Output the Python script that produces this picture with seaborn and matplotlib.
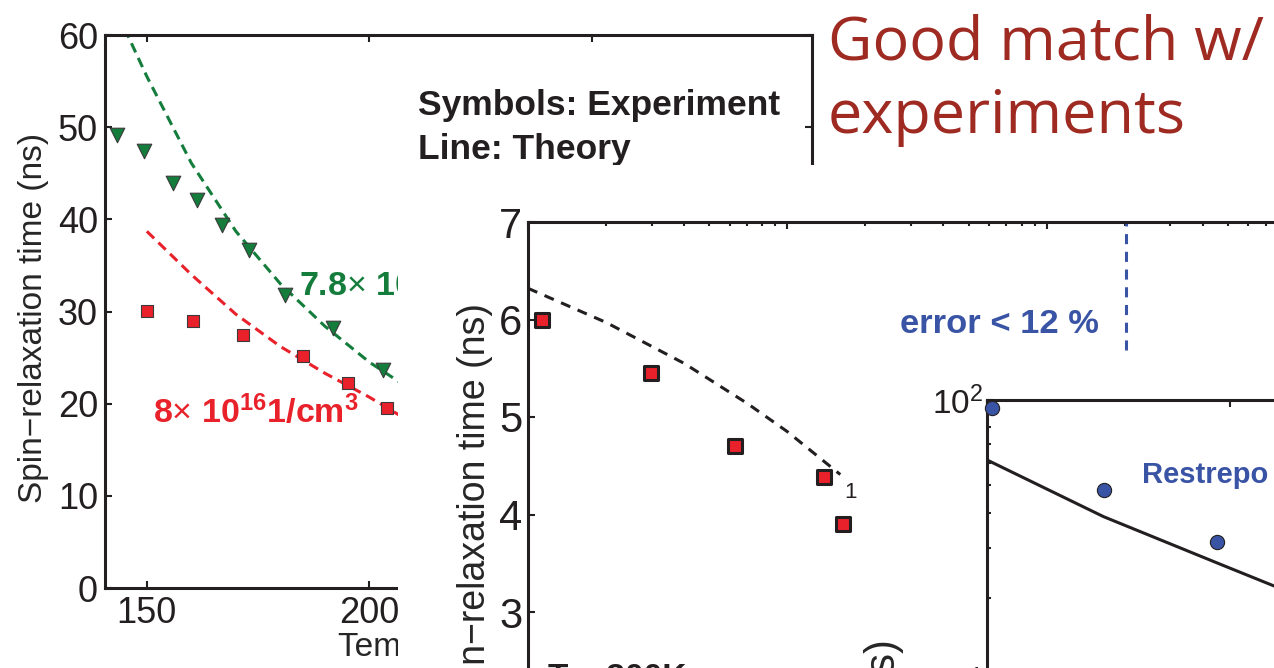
import matplotlib
matplotlib.use("Agg")
import matplotlib.pyplot as plt
import seaborn as sns
from matplotlib.patches import Rectangle
from matplotlib.ticker import NullFormatter, LogLocator

# left panel: spin relaxation vs temperature
temp_green = [143.3, 149.4, 155.8, 161.2, 166.8, 173.0, 181.1, 191.9, 203.1]
tau_green = [49.2, 47.4, 43.9, 42.1, 39.4, 36.7, 31.8, 28.2, 23.7]
temp_red = [150.0, 160.3, 171.5, 185.0, 195.1, 203.9]
tau_red = [30.1, 29.0, 27.5, 25.2, 22.2, 19.5]
theory_temp_green = [145, 150, 160, 170, 180, 190, 200, 210]
theory_tau_green = [60.7, 55.5, 46.1, 38.7, 33.0, 28.4, 24.5, 21.3]
theory_temp_red = [150, 160, 170, 180, 190, 200, 210]
theory_tau_red = [38.7, 34.0, 29.7, 26.2, 23.3, 20.7, 17.8]

# middle panel: spin relaxation vs doping (T = 300K)
doping_exp = [1.13e15, 2.99e15, 6.30e15, 1.38e16, 1.64e16]
tau_exp_b = [5.99, 5.45, 4.70, 4.38, 3.90]
doping_theory = [1e15, 2e15, 4e15, 7e15, 1e16, 1.6e16]
tau_theory_b = [6.32, 5.97, 5.55, 5.14, 4.85, 4.41]

# right panel: Restrepo data (log scale)
x_restrepo = [2.2, 48.3, 94.6]
tau_restrepo = [93.5, 48.1, 31.6]
x_theory_c = [0, 48, 95, 142]
tau_theory_c = [61.4, 38.7, 26.5, 18.2]

GREEN = "#147D3C"
RED = "#E8212B"
BLUE = "#3953A5"
INK = "#231F20"
EDGE = "#3a3a3a"

W, H = 1274, 668


def box(x0, y0, x1, y1):
    return [x0 / W, 1 - y1 / H, (x1 - x0) / W, (y1 - y0) / H]


sns.set_style("ticks")
plt.rcParams["font.family"] = ["Liberation Sans", "DejaVu Sans"]
plt.rcParams["mathtext.fontset"] = "custom"
plt.rcParams["mathtext.rm"] = "Liberation Sans"
plt.rcParams["mathtext.bf"] = "Liberation Sans:bold"
plt.rcParams["mathtext.it"] = "Liberation Sans:italic"
plt.rcParams["axes.edgecolor"] = INK
plt.rcParams["text.color"] = INK

fig = plt.figure(figsize=(W / 100, H / 100), dpi=100)


def frame(ax, size, pad):
    for s in ax.spines.values():
        s.set_visible(True)
        s.set_linewidth(2.2)
        s.set_color(INK)
    ax.tick_params(which="both", direction="in", top=True, right=True,
                   width=1.5, colors=INK, labelsize=size, pad=pad)
    ax.tick_params(which="major", length=5)
    ax.tick_params(which="minor", length=3)
    ax.set_facecolor("white")


# ---- left panel ----
axA = fig.add_axes(box(105, 35, 812, 588))
axA.set_zorder(1)
sns.lineplot(x=theory_temp_green, y=theory_tau_green, ax=axA, color=GREEN,
             lw=2.2, linestyle=(0, (3.3, 2)), estimator=None)
sns.lineplot(x=theory_temp_red, y=theory_tau_red, ax=axA, color=RED,
             lw=2.2, linestyle=(0, (3.3, 2)), estimator=None)
sns.scatterplot(x=temp_green, y=tau_green, ax=axA, marker="v", s=110,
                color=GREEN, edgecolor=EDGE, linewidth=0.8, zorder=3)
sns.scatterplot(x=temp_red, y=tau_red, ax=axA, marker="s", s=85,
                color=RED, edgecolor=EDGE, linewidth=0.8, zorder=3)
axA.set_xlim(140.6, 299.4)
axA.set_ylim(0, 60)
axA.set_xticks([150, 200, 250])
axA.set_yticks(range(0, 61, 10))
frame(axA, 26, 5)
axA.tick_params(axis="x", pad=6)
axA.set_xlabel("Temperature (K)", fontsize=24)
axA.xaxis.set_label_coords(0.5, -0.08)
axA.xaxis.label.set_va("top")
axA.set_ylabel("Spin\u2212relaxation time (ns)", fontsize=24)
axA.yaxis.set_label_coords(-0.079, 0.488)
axA.text(184.2, 31.7, r"7.8$\times$ 10$^{\mathbf{16}}$1/cm$^{\mathbf{3}}$",
         color=GREEN, fontsize=24.5, fontweight="bold", va="baseline")
axA.text(151.3, 17.9, r"8$\times$ 10$^{\mathbf{16}}$1/cm$^{\mathbf{3}}$",
         color=RED, fontsize=24.5, fontweight="bold", va="baseline")
axA.text(211.0, 51.3, "Symbols: Experiment", fontsize=25.5,
         fontweight="bold", va="baseline")
axA.text(211.0, 46.6, "Line: Theory", fontsize=25.5,
         fontweight="bold", va="baseline")

# white sheet of the middle panel
fig.add_artist(Rectangle((398 / W, 0), (W - 398) / W, (H - 165) / H,
                         transform=fig.transFigure, facecolor="white",
                         edgecolor="none", zorder=2))

# ---- middle panel ----
axB = fig.add_axes(box(528, 222, 1306, 807))
axB.set_zorder(3)
axB.set_xscale("log")
sns.lineplot(x=doping_theory, y=tau_theory_b, ax=axB, color=INK,
             lw=2.2, linestyle=(0, (3.3, 2.6)), estimator=None)
sns.scatterplot(x=doping_exp, y=tau_exp_b, ax=axB, marker="s", s=115,
                color=RED, edgecolor=INK, linewidth=2.2, zorder=3)
axB.axvline(2.02e17, color=BLUE, lw=2.2, linestyle=(0, (3.3, 2.5)))
axB.set_xlim(1e15, 1e18)
axB.set_ylim(1, 7)
axB.set_yticks(range(1, 8))
axB.xaxis.set_minor_locator(LogLocator(base=10, subs=range(2, 10)))
axB.xaxis.set_minor_formatter(NullFormatter())
frame(axB, 30, 4)
axB.tick_params(axis="y", which="minor", left=False, right=False)
axB.set_ylabel("Spin\u2212relaxation time (ns)", fontsize=27)
axB.yaxis.set_label_coords(-0.045, 0.506)
axB.text(2.73e16, 5.86, "error < 12 %", color=BLUE, fontsize=24.8,
         fontweight="bold", va="baseline")
axB.text(1.19e15, 2.23, "T = 300K", fontsize=24, fontweight="bold",
         va="baseline")

# white sheet of the right panel
fig.add_artist(Rectangle((855 / W, 0), (W - 855) / W, (H - 352) / H,
                         transform=fig.transFigure, facecolor="white",
                         edgecolor="none", zorder=4))

# ---- right panel ----
axC = fig.add_axes(box(987, 400, 1400, 683))
axC.set_zorder(5)
axC.set_yscale("log")
sns.lineplot(x=x_theory_c, y=tau_theory_c, ax=axC, color=INK, lw=2.2,
             estimator=None)
sns.scatterplot(x=x_restrepo, y=tau_restrepo, ax=axC, marker="o", s=105,
                color=BLUE, edgecolor=INK, linewidth=0.8, zorder=3,
                clip_on=False)
axC.set_xlim(0, 170)
axC.set_ylim(10, 100)
axC.set_xticks([0, 100])
axC.yaxis.set_minor_formatter(NullFormatter())
frame(axC, 24, 3)
axC.set_ylabel("Spin\u2212relaxation time (ns)", fontsize=30)
axC.yaxis.set_label_coords(-0.201, -0.66)
axC.text(63.8, 50.9, "Restrepo", color=BLUE, fontsize=21,
         fontweight="bold", va="baseline")

fig.text(850 / W, 1 - 498 / H, "1", fontsize=16, ha="center",
         va="baseline", zorder=6)

# headline
fig.text(828 / W, 1 - 60 / H, "Good match w/", family="Open Sans",
         fontsize=44, color="#9E2A22", va="baseline", zorder=6)
fig.text(828 / W, 1 - 133 / H, "experiments", family="Open Sans",
         fontsize=44, color="#9E2A22", va="baseline", zorder=6)

fig.savefig("out.png", dpi=100)
